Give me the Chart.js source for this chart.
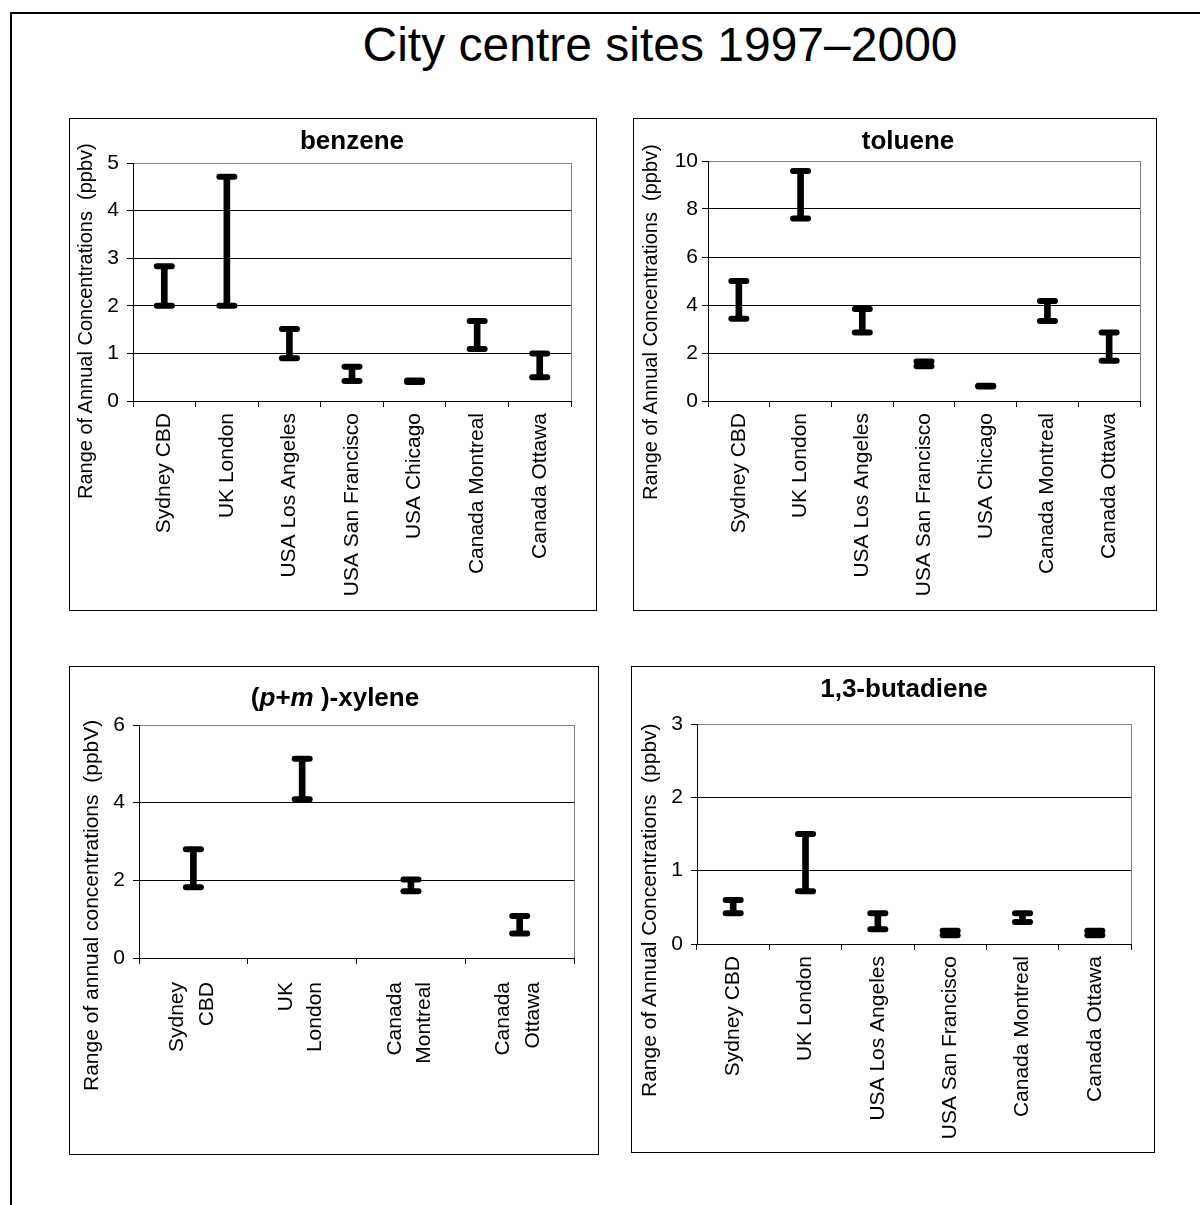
<!DOCTYPE html>
<html>
<head>
<meta charset="utf-8">
<script src="https://cdn.jsdelivr.net/npm/chart.js@4.4.1/dist/chart.umd.min.js"></script>
<style>
  html, body { margin:0; padding:0; background:#fff; width:1200px; height:1205px; overflow:hidden;
    font-family:"Liberation Sans", Arial, sans-serif; color:#000; }
  .frame { position:absolute; left:10px; top:12px; width:1300px; height:1300px;
    border-left:2px solid #000; border-top:2px solid #000; }
  .main-title { position:absolute; left:260px; width:800px; top:21px; text-align:center;
    font-size:48px; line-height:48px; white-space:nowrap; }
  .cbox { position:absolute; }
  .cbox canvas { position:absolute; left:0; top:0; }
  .pborder { position:absolute; border:1.5px solid #000; box-sizing:border-box; pointer-events:none; }
  .ptitle { position:absolute; font-weight:bold; font-size:26px; line-height:26px; white-space:nowrap;
    transform:translateX(-50%); }
  .ytitle { position:absolute; white-space:pre; transform-origin:0 0; transform:rotate(-90deg); }
</style>
</head>
<body>
<div class="frame"></div>
<div class="main-title">City centre sites 1997–2000</div>

<div class="cbox" id="box-benzene"><canvas id="c-benzene"></canvas></div>
<div class="cbox" id="box-toluene"><canvas id="c-toluene"></canvas></div>
<div class="cbox" id="box-xylene"><canvas id="c-xylene"></canvas></div>
<div class="cbox" id="box-butadiene"><canvas id="c-butadiene"></canvas></div>

<div class="ptitle" style="left:352px; top:127px;">benzene</div>
<div class="ptitle" style="left:908px; top:127px;">toluene</div>
<div class="ptitle" style="left:335px; top:684px;">(<i>p</i>+<i>m</i> )-xylene</div>
<div class="ptitle" style="left:904px; top:675px;">1,3-butadiene</div>

<div class="ytitle" style="left:75px; top:499px; font-size:20px; line-height:20px;">Range of Annual Concentrations  (ppbv)</div>
<div class="ytitle" style="left:640px; top:500px; font-size:20px; line-height:20px;">Range of Annual Concentrations  (ppbv)</div>
<div class="ytitle" style="left:80px; top:1091px; font-size:21px; line-height:21px;">Range of annual concentrations  (ppbV)</div>
<div class="ytitle" style="left:638px; top:1097px; font-size:21px; line-height:21px;">Range of Annual Concentrations  (ppbv)</div>

<script>
// ---- data (ranges of annual concentrations, ppbv) ----
const citySites = ["Sydney CBD", "UK London", "USA Los Angeles", "USA San Francisco",
                   "USA Chicago", "Canada Montreal", "Canada Ottawa"];
const benzeneLow  = [2.0, 2.0, 0.9, 0.42, 0.40, 1.09, 0.5];
const benzeneHigh = [2.83, 4.71, 1.51, 0.72, 0.43, 1.68, 1.0];

const tolueneLow  = [3.43, 7.6, 2.85, 1.45, 0.6, 3.33, 1.68];
const tolueneHigh = [5.0, 9.58, 3.83, 1.65, 0.64, 4.17, 2.85];

const xyleneSites = [["Sydney", "CBD"], ["UK", "London"], ["Canada", "Montreal"], ["Canada", "Ottawa"]];
const xyleneLow  = [1.82, 4.09, 1.72, 0.63];
const xyleneHigh = [2.8, 5.13, 2.02, 1.08];

const butadieneSites = ["Sydney CBD", "UK London", "USA Los Angeles", "USA San Francisco",
                        "Canada Montreal", "Canada Ottawa"];
const butadieneLow  = [0.42, 0.72, 0.2, 0.12, 0.3, 0.12];
const butadieneHigh = [0.6, 1.5, 0.42, 0.18, 0.42, 0.18];

// y axis ranges
const benzeneAxis   = { max: 5,  step: 1 };
const tolueneAxis   = { max: 10, step: 2 };
const xyleneAxis    = { max: 6,  step: 2 };
const butadieneAxis = { max: 3,  step: 1 };

// ---- layout (page px): panel box and plot area ----
const panels = [
  { id: "benzene",   box: [69, 118, 528, 493],  plot: [133, 163, 571, 401],
    sites: citySites, low: benzeneLow, high: benzeneHigh, axis: benzeneAxis,
    lineH: 1.2, labelPad: 6, labelShift: 0, yPad: 8 },
  { id: "toluene",   box: [633, 118, 524, 493], plot: [708, 161, 1140, 401],
    sites: citySites, low: tolueneLow, high: tolueneHigh, axis: tolueneAxis,
    lineH: 1.2, labelPad: 6, labelShift: 0, yPad: 4 },
  { id: "xylene",    box: [69, 666, 530, 489],  plot: [139, 725, 579, 958],
    sites: xyleneSites, low: xyleneLow, high: xyleneHigh, axis: xyleneAxis,
    lineH: 1.4, labelPad: 18, labelShift: -16, yPad: 8 },
  { id: "butadiene", box: [631, 666, 524, 487], plot: [697, 724, 1131, 944],
    sites: butadieneSites, low: butadieneLow, high: butadieneHigh, axis: butadieneAxis,
    lineH: 1.2, labelPad: 6, labelShift: 0, yPad: 8 }
];

Chart.defaults.font.family = '"Liberation Sans", Arial, sans-serif';
Chart.defaults.color = "#000";

// round ends on the error bar caps
const roundCaps = {
  id: "roundCaps",
  beforeDatasetsDraw(chart){ chart.ctx.lineCap = "round"; }
};

function buildPanel(p){
  const [bx, by, bw, bh] = p.box;
  const [pl, pt, pr, pb] = p.plot;
  const wrap = document.getElementById("box-" + p.id);
  wrap.style.left = bx + "px"; wrap.style.top = by + "px";
  wrap.style.width = bw + "px"; wrap.style.height = bh + "px";
  const canvas = document.getElementById("c-" + p.id);
  canvas.width = bw; canvas.height = bh;

  const border = document.createElement("div");
  border.className = "pborder";
  border.style.left = bx + "px"; border.style.top = by + "px";
  border.style.width = bw + "px"; border.style.height = bh + "px";
  document.body.appendChild(border);

  const ranges = p.low.map((v, i) => [v, p.high[i]]);
  const yMax = p.axis.max;

  return new Chart(canvas.getContext("2d"), {
    type: "bar",
    data: {
      labels: p.sites,
      datasets: [
        { label: "range", data: ranges, backgroundColor: "#000", borderWidth: 0, barThickness: 6 },
        { type: "line", label: "max", data: p.high, showLine: false,
          pointStyle: "line", pointRadius: 7.5, pointBorderWidth: 6,
          pointBorderColor: "#000", pointBackgroundColor: "#000", clip: false },
        { type: "line", label: "min", data: p.low, showLine: false,
          pointStyle: "line", pointRadius: 7.5, pointBorderWidth: 6,
          pointBorderColor: "#000", pointBackgroundColor: "#000", clip: false }
      ]
    },
    options: {
      responsive: false,
      animation: false,
      events: [],
      layout: { padding: { top: pt - by, right: (bx + bw) - pr, bottom: 0, left: 0 } },
      plugins: { legend: { display: false }, title: { display: false }, tooltip: { enabled: false } },
      scales: {
        x: {
          offset: true,
          ticks: { autoSkip: false, minRotation: 90, maxRotation: 90, padding: p.labelPad,
                   labelOffset: p.labelShift,
                   font: { size: 21, lineHeight: p.lineH }, color: "#000" },
          grid: { offset: true, drawOnChartArea: true, drawTicks: true, tickLength: 6,
                  color: c => c.type === "tick" ? "rgba(0,0,0,0)" : "#808080",
                  tickColor: "#000" },
          border: { color: "#000", width: 1 },
          afterFit: s => { s.height = (by + bh) - pb; }
        },
        y: {
          min: 0, max: yMax,
          ticks: { stepSize: p.axis.step, padding: p.yPad, font: { size: 21 }, color: "#000" },
          grid: { drawTicks: true, tickLength: 6, tickColor: "#000", lineWidth: 1,
                  color: c => (c.tick && c.tick.value === yMax) ? "#808080" : "#000" },
          border: { color: "#000", width: 1 },
          afterFit: s => { s.width = pl - bx; }
        }
      }
    },
    plugins: [roundCaps]
  });
}

panels.forEach(buildPanel);
</script>
</body>
</html>
